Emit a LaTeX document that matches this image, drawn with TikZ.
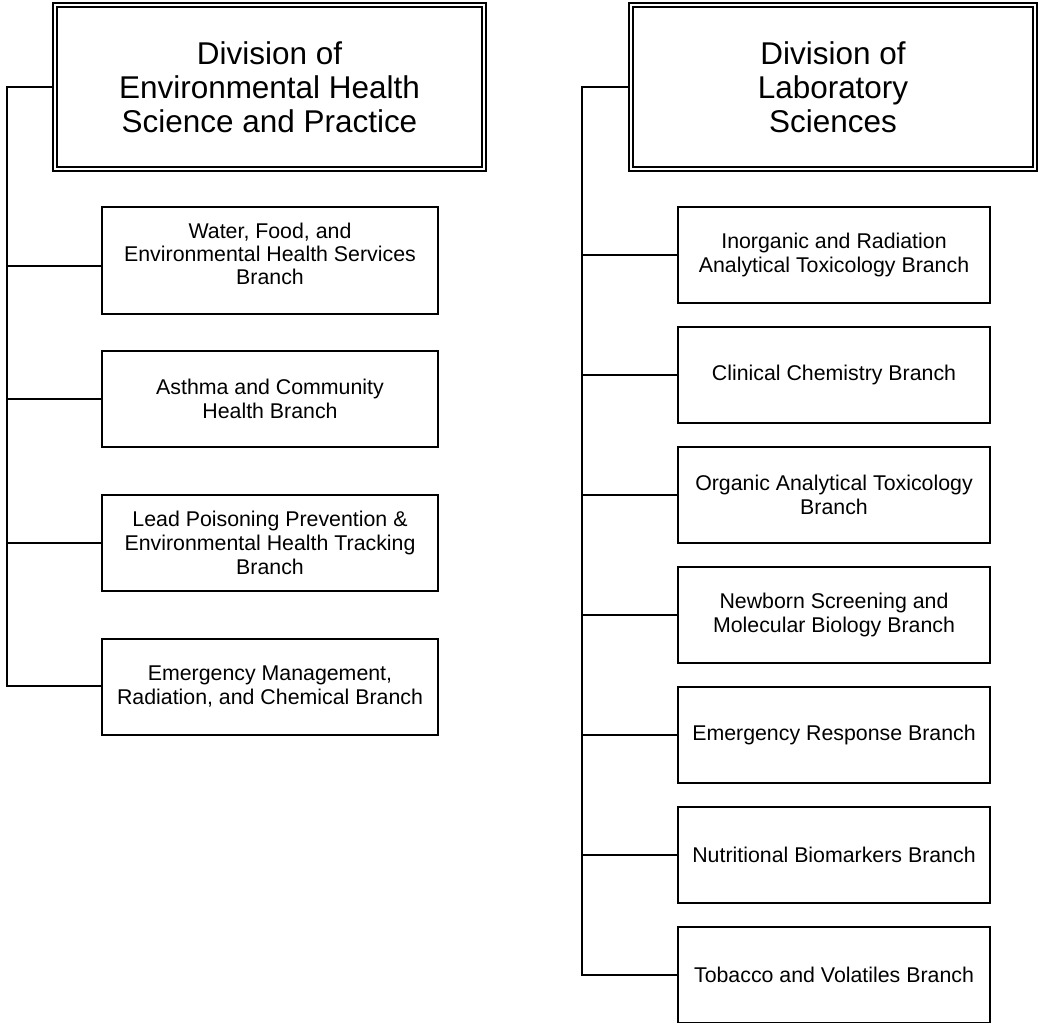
\documentclass[tikz,border=0pt]{standalone}
\usepackage{fontspec}
\setmainfont{Liberation Sans}
\begin{document}
\begin{tikzpicture}[x=0.75pt,y=-0.75pt,
  titlebox/.style={draw, line width=1.5pt, rectangle, inner sep=0pt, align=center,
    font=\fontsize{23.6pt}{25.5pt}\selectfont},
  childbox/.style={draw, line width=1.5pt, rectangle, inner sep=0pt, align=center,
    minimum width={336.5*0.75pt}, minimum height={96*0.75pt},
    font=\fontsize{16pt}{18pt}\selectfont},
  rchildbox/.style={childbox, minimum width={312*0.75pt}},
  childtext/.style={inner sep=0pt, align=center, font=\fontsize{16pt}{17pt}\selectfont},
  conn/.style={line width=1.5pt},
  inner/.style={line width=1pt}]
\useasboundingbox (0,0) rectangle (1038,1023);

% ---- left division ----
\node[titlebox, minimum width={433*0.75pt}, minimum height={168*0.75pt}] (t1) at (269.5,87)
  {Division of\\Environmental Health\\Science and Practice};
\draw[inner] ([shift={(5,5)}]t1.north west) rectangle ([shift={(-5,-5)}]t1.south east);

\node[childbox, minimum height={107.5*0.75pt}] (l1) at (270,260.75) {};
\node[childtext] (l1t) at (270,254) {Water, Food, and\\Environmental Health Services\\Branch};
\node[childbox] (l2) at (270,398.7) {Asthma and Community\\Health Branch};
\node[childbox] (l3) at (270,543) {Lead Poisoning Prevention \&\\Environmental Health Tracking\\Branch};
\node[childbox] (l4) at (270,686.7) {Emergency Management,\\Radiation, and Chemical Branch};

\coordinate (lt0) at (7,87);
\coordinate (lt1) at (7,266);
\coordinate (lt2) at (7,399);
\coordinate (lt3) at (7,543);
\coordinate (lt4) at (7,686);
\draw[conn] (t1.west |- lt0) -- (lt0) -- (lt4) -- (l4.west |- lt4);
\draw[conn] (lt1) -- (l1.west |- lt1);
\draw[conn] (lt2) -- (l2.west |- lt2);
\draw[conn] (lt3) -- (l3.west |- lt3);

% ---- right division ----
\node[titlebox, minimum width={408*0.75pt}, minimum height={168*0.75pt}] (t2) at (833,87)
  {Division of\\Laboratory\\Sciences};
\draw[inner] ([shift={(5,5)}]t2.north west) rectangle ([shift={(-5,-5)}]t2.south east);

\node[rchildbox] (r1) at (834,255) {Inorganic and Radiation\\Analytical Toxicology Branch};
\node[rchildbox] (r2) at (834,375) {Clinical Chemistry Branch};
\node[rchildbox] (r3) at (834,495) {Organic Analytical Toxicology\\Branch};
\node[rchildbox] (r4) at (834,615) {Newborn Screening and\\Molecular Biology Branch};
\node[rchildbox] (r5) at (834,735) {Emergency Response Branch};
\node[rchildbox] (r6) at (834,855) {Nutritional Biomarkers Branch};
\node[rchildbox] (r7) at (834,975) {Tobacco and Volatiles Branch};

\coordinate (rt0) at (582,87);
\coordinate (rt7) at (582,975);
\draw[conn] (t2.west |- rt0) -- (rt0) -- (rt7) -- (r7.west);
\foreach \i in {1,...,6} {
  \draw[conn] (rt0 |- r\i.west) -- (r\i.west);
}
\end{tikzpicture}
\end{document}
